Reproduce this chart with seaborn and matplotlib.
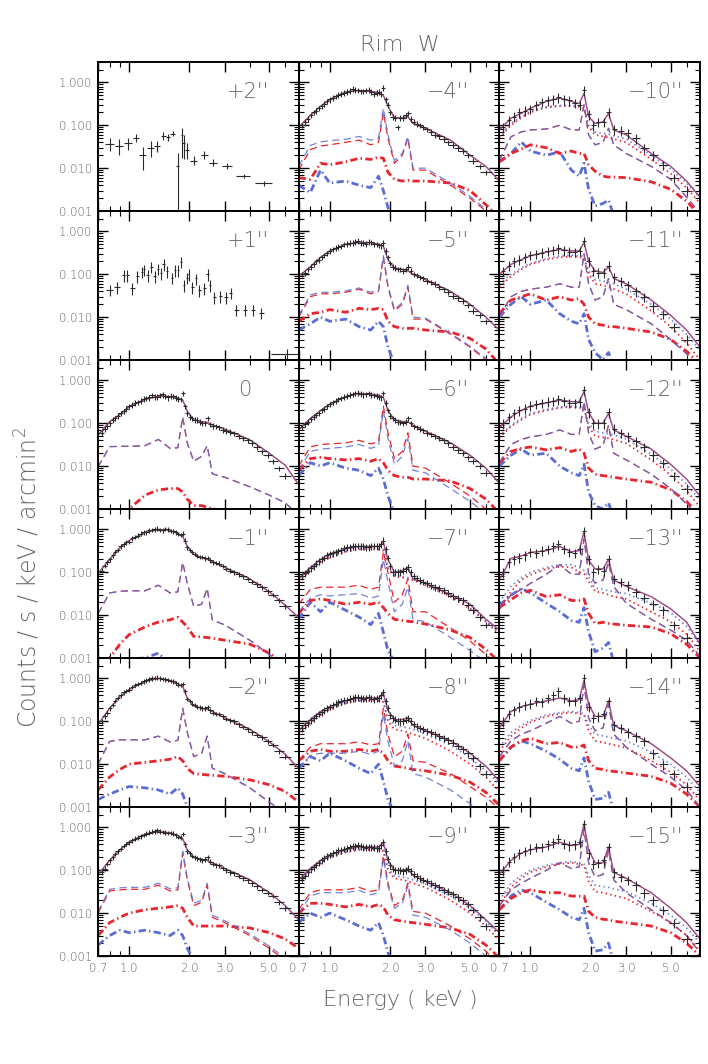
import numpy as np
import matplotlib
matplotlib.use("Agg")
from matplotlib import pyplot as plt
from matplotlib.ticker import FixedLocator, NullFormatter
import seaborn as sns

# ---------------- values ----------------
# model grid (keV)
EM = [0.70, 0.80, 0.90, 1.00, 1.20, 1.40, 1.60, 1.75, 1.85, 1.95,
      2.10, 2.30, 2.45, 2.60, 3.00, 4.00, 5.00, 6.00, 7.00]

# binned data grid for the model panels (centre, half width)
ED = [0.73, 0.78, 0.83, 0.88, 0.94, 1.00, 1.07, 1.14, 1.22, 1.30,
      1.38, 1.47, 1.56, 1.66, 1.76, 1.85, 1.95, 2.06, 2.18, 2.32,
      2.46, 2.62, 2.82, 3.05, 3.35, 3.70, 4.10, 4.60, 5.20, 6.00]
EW = [0.02, 0.02, 0.02, 0.025, 0.025, 0.03, 0.03, 0.035, 0.035, 0.04,
      0.04, 0.045, 0.045, 0.05, 0.05, 0.04, 0.05, 0.055, 0.06, 0.07,
      0.07, 0.08, 0.1, 0.12, 0.15, 0.18, 0.2, 0.25, 0.3, 0.4]
# extra (interleaved) bins used by the brighter slices
ED2 = [0.755, 0.805, 0.855, 0.91, 0.97, 1.035, 1.105, 1.18, 1.26, 1.34,
       1.425, 1.515, 1.61, 1.71, 1.805, 1.90, 2.005, 2.12, 2.25, 2.39,
       2.54, 2.72, 2.93, 3.2, 3.52, 3.9, 4.35, 4.9, 5.6]
EW2 = [0.02, 0.02, 0.02, 0.025, 0.025, 0.03, 0.03, 0.035, 0.035, 0.04,
       0.04, 0.04, 0.045, 0.045, 0.04, 0.04, 0.045, 0.05, 0.06, 0.06,
       0.07, 0.08, 0.1, 0.12, 0.14, 0.17, 0.2, 0.25, 0.3]

# +2" (data only)
e_p2 = [0.80, 0.89, 0.99, 1.08, 1.17, 1.28, 1.38, 1.48, 1.56, 1.65,
        1.75, 1.83, 1.87, 1.95, 2.10, 2.37, 2.62, 3.07, 3.72, 4.68]
w_p2 = [0.04, 0.04, 0.045, 0.04, 0.045, 0.05, 0.05, 0.045, 0.04, 0.045,
        0.03, 0.02, 0.025, 0.04, 0.08, 0.1, 0.12, 0.18, 0.3, 0.45]
v_p2 = [0.037, 0.033, 0.038, 0.05, 0.02, 0.029, 0.033, 0.056, 0.052, 0.063,
        0.011, 0.06, 0.038, 0.026, 0.015, 0.02, 0.013, 0.011, 0.0066, 0.0044]
lo_p2 = [0.025, 0.02, 0.027, 0.04, 0.009, 0.018, 0.024, 0.045, 0.043, 0.055,
         0.0005, 0.017, 0.016, 0.016, 0.012, 0.016, 0.011, 0.0095, 0.0058, 0.0039]
hi_p2 = [0.05, 0.048, 0.05, 0.062, 0.032, 0.042, 0.044, 0.068, 0.064, 0.075,
         0.022, 0.085, 0.06, 0.038, 0.019, 0.025, 0.016, 0.013, 0.0075, 0.005]

# +1" (data only)
e_p1 = [0.80, 0.87, 0.94, 0.98, 1.035, 1.10, 1.16, 1.19, 1.24, 1.29,
        1.34, 1.39, 1.44, 1.49, 1.55, 1.63, 1.70, 1.76, 1.81, 1.88,
        1.94, 1.98, 2.07, 2.15, 2.24, 2.37, 2.46, 2.52, 2.66, 2.85,
        3.04, 3.21, 3.43, 3.78, 4.15, 4.56, 6.1]
w_p1 = [0.03, 0.03, 0.015, 0.015, 0.03, 0.02, 0.015, 0.015, 0.02, 0.02,
        0.02, 0.02, 0.02, 0.025, 0.02, 0.02, 0.02, 0.015, 0.015, 0.015,
        0.015, 0.015, 0.03, 0.03, 0.04, 0.04, 0.03, 0.03, 0.05, 0.06,
        0.06, 0.06, 0.1, 0.1, 0.1, 0.12, 1.0]
v_p1 = [0.044, 0.05, 0.096, 0.096, 0.047, 0.091, 0.115, 0.13, 0.096, 0.152,
        0.091, 0.135, 0.107, 0.174, 0.12, 0.083, 0.125, 0.125, 0.198, 0.056,
        0.083, 0.1, 0.05, 0.08, 0.043, 0.047, 0.1, 0.056, 0.029, 0.031,
        0.029, 0.037, 0.015, 0.015, 0.015, 0.0127, 0.0014]

# 0"
d_0 = [0.06, 0.085, 0.12, 0.15, 0.19, 0.25, 0.3, 0.33, 0.38, 0.45, 0.42, 0.47, 0.4, 0.43, 0.37,
       0.5, 0.17, 0.13, 0.12, 0.1, 0.13, 0.088, 0.08, 0.066, 0.058, 0.045, 0.035, 0.022, 0.013, 0.006]
e_0 = [0.075, 0.1, 0.13, 0.17, 0.22, 0.27, 0.31, 0.37, 0.4, 0.41, 0.45, 0.43, 0.44, 0.39, 0.36,
       0.25, 0.14, 0.12, 0.11, 0.1, 0.095, 0.085, 0.07, 0.063, 0.05, 0.04, 0.028, 0.018, 0.009]
tot_0 = [0.053, 0.11, 0.16, 0.245, 0.36, 0.43, 0.42, 0.39, 0.35, 0.19,
         0.12, 0.11, 0.105, 0.092, 0.073, 0.041, 0.02, 0.0105, 0.0037]
dash_0 = [0.0096, 0.0285, 0.029, 0.029, 0.03, 0.042, 0.026, 0.027, 0.14, 0.035,
          0.013, 0.017, 0.03, 0.0066, 0.0055, 0.0033, 0.0021, 0.0014, 0.0007]
ddr_0 = [0.0003, 0.0005, 0.0007, 0.001, 0.0021, 0.0028, 0.003, 0.003, 0.0025, 0.0017,
         0.0012, 0.0012, 0.0011, 0.001, 0.00095, 0.0006, 0.0004, 0.0003, 0.0002]

# -1"
d_1 = [0.11, 0.17, 0.25, 0.33, 0.45, 0.52, 0.68, 0.8, 0.85, 0.98, 1.05, 0.95, 1.0, 0.9, 0.78,
       0.8, 0.38, 0.3, 0.24, 0.23, 0.22, 0.17, 0.16, 0.12, 0.1, 0.08, 0.06, 0.045, 0.03, 0.016]
e_1 = [0.14, 0.2, 0.3, 0.4, 0.5, 0.62, 0.72, 0.85, 0.95, 1.0, 0.97, 1.02, 0.92, 0.85, 0.75,
       0.55, 0.33, 0.27, 0.23, 0.21, 0.19, 0.165, 0.14, 0.11, 0.09, 0.07, 0.052, 0.036, 0.022]
tot_1 = [0.095, 0.2, 0.37, 0.55, 0.85, 1.0, 0.95, 0.8, 0.7, 0.4,
         0.26, 0.22, 0.2, 0.18, 0.13, 0.07, 0.035, 0.017, 0.0087]
dash_1 = [0.0109, 0.033, 0.036, 0.037, 0.037, 0.05, 0.033, 0.035, 0.17, 0.055,
          0.016, 0.018, 0.042, 0.0077, 0.0059, 0.0026, 0.0012, 0.0007, 0.0004]
ddr_1 = [0.0004, 0.001, 0.0021, 0.0035, 0.0053, 0.0069, 0.0078, 0.0089, 0.0069, 0.0053,
         0.0032, 0.0031, 0.003, 0.0029, 0.0026, 0.0021, 0.0013, 0.0007, 0.0004]
ddb_1 = [0.0003, 0.0005, 0.0008, 0.00095, 0.001, 0.0013, 0.0007, 0.0005, 0.0004, 0.0003,
         0.0002, 0.0002, 0.0002, 0.0002, 0.0002, 0.0002, 0.0002, 0.0002, 0.0002]

# -2"
d_2 = [0.1, 0.16, 0.24, 0.35, 0.47, 0.55, 0.7, 0.78, 0.9, 1.0, 1.05, 0.98, 0.92, 0.85, 0.72,
       0.75, 0.33, 0.26, 0.22, 0.2, 0.21, 0.16, 0.15, 0.115, 0.1, 0.075, 0.055, 0.042, 0.028, 0.015]
e_2 = [0.13, 0.2, 0.3, 0.4, 0.52, 0.63, 0.74, 0.85, 0.95, 1.02, 1.0, 0.95, 0.88, 0.78, 0.7,
       0.5, 0.3, 0.24, 0.21, 0.2, 0.18, 0.15, 0.13, 0.105, 0.085, 0.065, 0.048, 0.034, 0.02]
tot_2 = [0.085, 0.2, 0.38, 0.55, 0.85, 1.0, 0.9, 0.75, 0.65, 0.35,
         0.23, 0.2, 0.19, 0.17, 0.12, 0.065, 0.033, 0.017, 0.008]
dash_2 = [0.01, 0.034, 0.037, 0.037, 0.037, 0.045, 0.033, 0.036, 0.2, 0.055,
          0.015, 0.018, 0.045, 0.008, 0.006, 0.0028, 0.0013, 0.0007, 0.0004]
ddr_2 = [0.0025, 0.005, 0.0075, 0.01, 0.011, 0.012, 0.013, 0.015, 0.012, 0.008,
         0.006, 0.0058, 0.0056, 0.0055, 0.0052, 0.0043, 0.0033, 0.0023, 0.0013]
ddb_2 = [0.0015, 0.002, 0.0025, 0.003, 0.0028, 0.0025, 0.002, 0.0028, 0.002, 0.001,
         0.0006, 0.0004, 0.0004, 0.0003, 0.0003, 0.0002, 0.0002, 0.0002, 0.0002]

# -3"
d_3 = [0.09, 0.14, 0.2, 0.28, 0.37, 0.45, 0.55, 0.62, 0.72, 0.8, 0.85, 0.78, 0.75, 0.72, 0.6,
       0.7, 0.28, 0.22, 0.19, 0.17, 0.2, 0.14, 0.13, 0.1, 0.085, 0.065, 0.05, 0.035, 0.025, 0.013]
e_3 = [0.11, 0.17, 0.24, 0.32, 0.41, 0.5, 0.58, 0.68, 0.76, 0.82, 0.8, 0.76, 0.74, 0.66, 0.58,
       0.4, 0.25, 0.2, 0.18, 0.18, 0.16, 0.13, 0.115, 0.09, 0.075, 0.058, 0.042, 0.03, 0.018]
tot_3 = [0.08, 0.17, 0.3, 0.45, 0.7, 0.8, 0.75, 0.65, 0.55, 0.3,
         0.2, 0.18, 0.17, 0.15, 0.11, 0.06, 0.03, 0.015, 0.007]
dashr_3 = [0.01, 0.033, 0.035, 0.036, 0.036, 0.045, 0.033, 0.035, 0.25, 0.06,
           0.015, 0.018, 0.045, 0.008, 0.006, 0.003, 0.0015, 0.0008, 0.0004]
dashb_3 = [0.011, 0.036, 0.039, 0.04, 0.04, 0.05, 0.037, 0.039, 0.28, 0.066,
           0.017, 0.02, 0.05, 0.009, 0.0066, 0.0033, 0.0017, 0.0009, 0.0005]
ddr_3 = [0.003, 0.006, 0.008, 0.01, 0.012, 0.013, 0.014, 0.015, 0.013, 0.008,
         0.005, 0.005, 0.005, 0.005, 0.005, 0.0045, 0.0035, 0.0025, 0.0015]
ddb_3 = [0.0018, 0.003, 0.004, 0.0035, 0.004, 0.0035, 0.003, 0.004, 0.003, 0.0015,
         0.0008, 0.0005, 0.0004, 0.0003, 0.0003, 0.0002, 0.0002, 0.0002, 0.0002]

# -4"
d_4 = [0.1, 0.14, 0.2, 0.25, 0.32, 0.4, 0.48, 0.55, 0.6, 0.7, 0.65, 0.62, 0.68, 0.55, 0.6,
       0.75, 0.3, 0.16, 0.09, 0.15, 0.19, 0.12, 0.1, 0.08, 0.06, 0.048, 0.035, 0.025, 0.015, 0.008]
e_4 = [0.12, 0.17, 0.22, 0.28, 0.36, 0.44, 0.52, 0.58, 0.64, 0.68, 0.62, 0.66, 0.6, 0.58, 0.55,
       0.4, 0.2, 0.15, 0.15, 0.17, 0.14, 0.11, 0.09, 0.07, 0.055, 0.04, 0.03, 0.02, 0.011]
tot_4 = [0.09, 0.17, 0.28, 0.4, 0.6, 0.65, 0.62, 0.58, 0.5, 0.28,
         0.15, 0.15, 0.16, 0.11, 0.085, 0.045, 0.02, 0.011, 0.005]
dashr_4 = [0.009, 0.027, 0.033, 0.035, 0.04, 0.045, 0.035, 0.04, 0.2, 0.05,
           0.013, 0.02, 0.05, 0.009, 0.009, 0.004, 0.002, 0.001, 0.0005]
dashb_4 = [0.011, 0.034, 0.041, 0.044, 0.047, 0.055, 0.045, 0.05, 0.25, 0.06,
           0.015, 0.022, 0.055, 0.01, 0.01, 0.0045, 0.0022, 0.0011, 0.0006]
ddr_4 = [0.006, 0.0055, 0.013, 0.012, 0.014, 0.017, 0.016, 0.018, 0.017, 0.008,
         0.0055, 0.005, 0.0052, 0.005, 0.005, 0.0045, 0.003, 0.0014, 0.0007]
ddb_4 = [0.004, 0.0027, 0.009, 0.0045, 0.005, 0.004, 0.0035, 0.0065, 0.003, 0.0012,
         0.0006, 0.0004, 0.0003, 0.0003, 0.0002, 0.0002, 0.0002, 0.0002, 0.0002]

# -5"
d_5 = [0.1, 0.13, 0.17, 0.22, 0.28, 0.35, 0.42, 0.45, 0.52, 0.55, 0.6, 0.55, 0.58, 0.5, 0.48,
       0.55, 0.25, 0.15, 0.13, 0.12, 0.15, 0.1, 0.085, 0.07, 0.06, 0.045, 0.032, 0.024, 0.014, 0.008]
e_5 = [0.11, 0.15, 0.2, 0.25, 0.31, 0.38, 0.44, 0.5, 0.54, 0.57, 0.55, 0.52, 0.56, 0.5, 0.47,
       0.35, 0.18, 0.14, 0.13, 0.13, 0.12, 0.095, 0.08, 0.065, 0.05, 0.038, 0.028, 0.019, 0.011]
tot_5 = [0.09, 0.15, 0.25, 0.35, 0.5, 0.55, 0.55, 0.5, 0.45, 0.22,
         0.14, 0.13, 0.12, 0.1, 0.075, 0.04, 0.02, 0.01, 0.005]
dashr_5 = [0.01, 0.03, 0.035, 0.035, 0.038, 0.045, 0.035, 0.04, 0.25, 0.05,
           0.014, 0.02, 0.05, 0.009, 0.009, 0.004, 0.002, 0.001, 0.0005]
dashb_5 = [0.011, 0.033, 0.038, 0.038, 0.041, 0.048, 0.038, 0.043, 0.27, 0.055,
           0.015, 0.022, 0.055, 0.01, 0.0095, 0.0042, 0.0021, 0.0011, 0.0005]
ddr_5 = [0.008, 0.012, 0.013, 0.015, 0.013, 0.016, 0.015, 0.016, 0.015, 0.008,
         0.006, 0.0055, 0.0055, 0.0055, 0.005, 0.0045, 0.0032, 0.0018, 0.0008]
ddb_5 = [0.005, 0.007, 0.01, 0.008, 0.009, 0.006, 0.005, 0.008, 0.006, 0.002,
         0.0008, 0.0006, 0.0005, 0.0003, 0.0002, 0.0002, 0.0002, 0.0002, 0.0002]

# -6"
d_6 = [0.08, 0.11, 0.14, 0.17, 0.22, 0.28, 0.34, 0.38, 0.44, 0.48, 0.52, 0.47, 0.5, 0.45, 0.42,
       0.5, 0.2, 0.13, 0.11, 0.1, 0.13, 0.085, 0.075, 0.06, 0.05, 0.04, 0.028, 0.02, 0.013, 0.007]
e_6 = [0.095, 0.125, 0.155, 0.2, 0.25, 0.31, 0.36, 0.41, 0.46, 0.5, 0.49, 0.48, 0.46, 0.44, 0.4,
       0.3, 0.15, 0.12, 0.105, 0.11, 0.1, 0.08, 0.068, 0.055, 0.045, 0.034, 0.024, 0.016, 0.01]
tot_6 = [0.07, 0.13, 0.2, 0.28, 0.42, 0.5, 0.48, 0.45, 0.4, 0.2,
         0.12, 0.11, 0.11, 0.09, 0.065, 0.035, 0.018, 0.009, 0.004]
dashr_6 = [0.01, 0.028, 0.032, 0.033, 0.035, 0.04, 0.033, 0.037, 0.25, 0.06,
           0.015, 0.022, 0.06, 0.01, 0.009, 0.004, 0.002, 0.001, 0.0005]
dashb_6 = [0.008, 0.022, 0.025, 0.026, 0.028, 0.032, 0.026, 0.03, 0.2, 0.045,
           0.011, 0.017, 0.045, 0.008, 0.007, 0.003, 0.0015, 0.0008, 0.0004]
ddr_6 = [0.008, 0.015, 0.016, 0.015, 0.014, 0.015, 0.013, 0.015, 0.012, 0.008,
         0.006, 0.0055, 0.0055, 0.005, 0.005, 0.0045, 0.003, 0.0017, 0.0008]
ddb_6 = [0.006, 0.012, 0.01, 0.012, 0.009, 0.008, 0.006, 0.009, 0.005, 0.002,
         0.0008, 0.0005, 0.0004, 0.0003, 0.0002, 0.0002, 0.0002, 0.0002, 0.0002]

# -7"
d_7 = [0.08, 0.11, 0.14, 0.18, 0.22, 0.27, 0.3, 0.33, 0.38, 0.4, 0.42, 0.4, 0.38, 0.42, 0.4,
       0.55, 0.22, 0.1, 0.1, 0.11, 0.13, 0.08, 0.065, 0.055, 0.045, 0.038, 0.028, 0.022, 0.013, 0.006]
e_7 = [0.095, 0.125, 0.16, 0.2, 0.25, 0.28, 0.32, 0.36, 0.39, 0.41, 0.4, 0.39, 0.41, 0.4, 0.45,
       0.35, 0.14, 0.1, 0.1, 0.12, 0.1, 0.075, 0.06, 0.05, 0.042, 0.033, 0.025, 0.017, 0.009]
tot_7 = [0.07, 0.13, 0.2, 0.27, 0.35, 0.4, 0.4, 0.4, 0.5, 0.2,
         0.1, 0.11, 0.13, 0.07, 0.055, 0.03, 0.018, 0.008, 0.0045]
dotr_7 = [0.06, 0.11, 0.17, 0.22, 0.3, 0.34, 0.35, 0.34, 0.32, 0.12,
          0.08, 0.075, 0.07, 0.065, 0.05, 0.027, 0.014, 0.007, 0.0035]
dotb_7 = [0.065, 0.12, 0.18, 0.24, 0.31, 0.36, 0.37, 0.36, 0.34, 0.13,
          0.085, 0.08, 0.075, 0.07, 0.053, 0.029, 0.015, 0.0075, 0.0038]
dashr_7 = [0.018, 0.04, 0.045, 0.045, 0.045, 0.05, 0.04, 0.045, 0.3, 0.1,
           0.02, 0.03, 0.07, 0.012, 0.012, 0.005, 0.0025, 0.0012, 0.0006]
dashb_7 = [0.012, 0.025, 0.03, 0.028, 0.03, 0.032, 0.025, 0.028, 0.2, 0.06,
           0.012, 0.018, 0.045, 0.008, 0.007, 0.003, 0.0015, 0.0008, 0.0004]
ddr_7 = [0.011, 0.022, 0.024, 0.022, 0.018, 0.02, 0.018, 0.02, 0.015, 0.011,
         0.008, 0.0075, 0.0072, 0.007, 0.0062, 0.0045, 0.003, 0.0016, 0.0008]
ddb_7 = [0.008, 0.02, 0.012, 0.02, 0.013, 0.009, 0.006, 0.011, 0.004, 0.0015,
         0.0008, 0.0005, 0.0004, 0.0003, 0.0002, 0.0002, 0.0002, 0.0002, 0.0002]

# -8"
d_8 = [0.07, 0.09, 0.12, 0.15, 0.18, 0.22, 0.26, 0.29, 0.32, 0.35, 0.37, 0.34, 0.36, 0.33, 0.35,
       0.48, 0.2, 0.12, 0.1, 0.1, 0.12, 0.085, 0.07, 0.06, 0.05, 0.04, 0.032, 0.022, 0.014, 0.006]
e_8 = [0.08, 0.105, 0.135, 0.165, 0.2, 0.24, 0.28, 0.31, 0.34, 0.36, 0.35, 0.35, 0.34, 0.35, 0.4,
       0.3, 0.14, 0.11, 0.1, 0.11, 0.1, 0.078, 0.065, 0.055, 0.045, 0.036, 0.027, 0.018, 0.009]
tot_8 = [0.06, 0.11, 0.17, 0.22, 0.3, 0.35, 0.35, 0.35, 0.45, 0.18,
         0.11, 0.11, 0.12, 0.08, 0.06, 0.035, 0.018, 0.009, 0.004]
dotr_8 = [0.05, 0.09, 0.14, 0.19, 0.26, 0.3, 0.3, 0.3, 0.28, 0.1,
          0.065, 0.06, 0.055, 0.05, 0.04, 0.02, 0.01, 0.005, 0.0023]
dotb_8 = [0.055, 0.1, 0.15, 0.2, 0.27, 0.31, 0.31, 0.31, 0.29, 0.12,
          0.08, 0.075, 0.07, 0.065, 0.05, 0.028, 0.014, 0.007, 0.0035]
dashr_8 = [0.012, 0.025, 0.03, 0.03, 0.03, 0.033, 0.028, 0.03, 0.2, 0.05,
           0.015, 0.02, 0.05, 0.012, 0.011, 0.006, 0.003, 0.0017, 0.0009]
dashb_8 = [0.008, 0.016, 0.018, 0.018, 0.018, 0.02, 0.017, 0.02, 0.15, 0.035,
           0.009, 0.012, 0.035, 0.006, 0.005, 0.0025, 0.0012, 0.0006, 0.0003]
ddr_8 = [0.012, 0.02, 0.022, 0.02, 0.02, 0.022, 0.02, 0.022, 0.018, 0.012,
         0.009, 0.0085, 0.008, 0.0075, 0.007, 0.0055, 0.0038, 0.0022, 0.0011]
ddb_8 = [0.008, 0.015, 0.012, 0.018, 0.012, 0.008, 0.006, 0.01, 0.004, 0.0015,
         0.0007, 0.0004, 0.0003, 0.0003, 0.0002, 0.0002, 0.0002, 0.0002, 0.0002]

# -9"
d_9 = [0.065, 0.09, 0.12, 0.15, 0.19, 0.23, 0.27, 0.3, 0.33, 0.36, 0.38, 0.35, 0.35, 0.34, 0.33,
       0.45, 0.18, 0.11, 0.1, 0.095, 0.11, 0.08, 0.065, 0.055, 0.045, 0.035, 0.028, 0.02, 0.012, 0.005]
e_9 = [0.075, 0.105, 0.135, 0.17, 0.21, 0.25, 0.29, 0.32, 0.35, 0.37, 0.36, 0.34, 0.35, 0.33, 0.38,
       0.28, 0.13, 0.1, 0.1, 0.1, 0.095, 0.072, 0.06, 0.05, 0.04, 0.032, 0.024, 0.016, 0.008]
tot_9 = [0.06, 0.11, 0.17, 0.23, 0.3, 0.35, 0.35, 0.35, 0.45, 0.17,
         0.1, 0.1, 0.11, 0.075, 0.055, 0.03, 0.015, 0.007, 0.0035]
dotr_9 = [0.05, 0.095, 0.145, 0.2, 0.26, 0.3, 0.3, 0.3, 0.28, 0.1,
          0.065, 0.06, 0.055, 0.05, 0.04, 0.02, 0.01, 0.005, 0.0023]
dotb_9 = [0.055, 0.1, 0.155, 0.21, 0.27, 0.31, 0.31, 0.31, 0.29, 0.11,
          0.075, 0.07, 0.065, 0.06, 0.048, 0.025, 0.013, 0.0065, 0.003]
dashr_9 = [0.012, 0.03, 0.035, 0.035, 0.035, 0.04, 0.032, 0.035, 0.22, 0.05,
           0.015, 0.02, 0.05, 0.011, 0.01, 0.005, 0.0025, 0.0013, 0.0006]
dashb_9 = [0.01, 0.025, 0.03, 0.03, 0.03, 0.034, 0.027, 0.03, 0.19, 0.043,
           0.013, 0.017, 0.043, 0.009, 0.008, 0.004, 0.002, 0.001, 0.0005]
ddr_9 = [0.01, 0.017, 0.017, 0.016, 0.014, 0.016, 0.014, 0.016, 0.014, 0.009,
         0.007, 0.0065, 0.0062, 0.006, 0.0055, 0.0045, 0.0032, 0.0018, 0.0009]
ddb_9 = [0.006, 0.01, 0.008, 0.01, 0.007, 0.005, 0.004, 0.006, 0.003, 0.0012,
         0.0006, 0.0004, 0.0004, 0.0003, 0.0003, 0.0002, 0.0002, 0.0002, 0.0002]

# -10"
d_10 = [0.09, 0.13, 0.16, 0.2, 0.22, 0.24, 0.3, 0.35, 0.38, 0.4, 0.45, 0.4, 0.38, 0.33, 0.3,
        0.65, 0.18, 0.1, 0.12, 0.12, 0.2, 0.08, 0.075, 0.065, 0.05, 0.03, 0.02, 0.012, 0.006, 0.003]
tot_10 = [0.078, 0.146, 0.19, 0.25, 0.36, 0.43, 0.36, 0.32, 0.56, 0.16,
          0.11, 0.12, 0.19, 0.078, 0.06, 0.022, 0.011, 0.005, 0.0021]
dotr_10 = [0.05, 0.1, 0.15, 0.2, 0.26, 0.28, 0.28, 0.27, 0.25, 0.09,
           0.06, 0.055, 0.052, 0.048, 0.04, 0.016, 0.0075, 0.0035, 0.0015]
dotb_10 = [0.055, 0.11, 0.16, 0.21, 0.27, 0.29, 0.29, 0.28, 0.26, 0.1,
           0.07, 0.065, 0.062, 0.057, 0.048, 0.02, 0.0095, 0.0045, 0.002]
dash_10 = [0.015, 0.054, 0.07, 0.078, 0.082, 0.1, 0.078, 0.078, 0.3, 0.06,
           0.035, 0.04, 0.085, 0.035, 0.022, 0.011, 0.0055, 0.0021, 0.0009]
ddr_10 = [0.014, 0.022, 0.028, 0.035, 0.03, 0.022, 0.025, 0.022, 0.022, 0.012,
          0.0085, 0.0065, 0.0062, 0.0062, 0.006, 0.0048, 0.0032, 0.0017, 0.0008]
ddb_10 = [0.014, 0.022, 0.041, 0.025, 0.02, 0.024, 0.009, 0.0065, 0.013, 0.0032,
          0.0013, 0.0015, 0.0018, 0.0008, 0.0004, 0.0003, 0.0002, 0.0002, 0.0002]

# -11"
d_11 = [0.12, 0.16, 0.2, 0.22, 0.25, 0.28, 0.3, 0.32, 0.35, 0.37, 0.4, 0.36, 0.34, 0.33, 0.35,
        0.6, 0.2, 0.12, 0.11, 0.11, 0.16, 0.085, 0.07, 0.055, 0.04, 0.03, 0.018, 0.012, 0.006, 0.003]
tot_11 = [0.1, 0.17, 0.22, 0.27, 0.33, 0.38, 0.35, 0.35, 0.55, 0.2,
          0.12, 0.11, 0.15, 0.08, 0.06, 0.025, 0.011, 0.005, 0.002]
dotr_11 = [0.05, 0.09, 0.13, 0.17, 0.22, 0.25, 0.26, 0.25, 0.24, 0.1,
           0.06, 0.055, 0.05, 0.045, 0.035, 0.014, 0.006, 0.0025, 0.001]
dotb_11 = [0.06, 0.1, 0.14, 0.18, 0.23, 0.27, 0.28, 0.27, 0.26, 0.12,
           0.075, 0.07, 0.065, 0.06, 0.045, 0.02, 0.009, 0.004, 0.0017]
dash_11 = [0.01, 0.03, 0.04, 0.045, 0.05, 0.06, 0.05, 0.05, 0.3, 0.06,
           0.025, 0.03, 0.08, 0.02, 0.015, 0.007, 0.003, 0.0014, 0.0006]
ddr_11 = [0.012, 0.025, 0.03, 0.035, 0.025, 0.03, 0.025, 0.027, 0.02, 0.01,
          0.007, 0.0065, 0.006, 0.006, 0.0055, 0.0045, 0.003, 0.0016, 0.0008]
ddb_11 = [0.01, 0.02, 0.03, 0.02, 0.025, 0.012, 0.008, 0.007, 0.012, 0.003,
          0.0015, 0.001, 0.0015, 0.0007, 0.0003, 0.0002, 0.0002, 0.0002, 0.0002]

# -12"
d_12 = [0.1, 0.14, 0.17, 0.2, 0.22, 0.26, 0.28, 0.3, 0.32, 0.33, 0.36, 0.33, 0.3, 0.3, 0.32,
        0.6, 0.18, 0.1, 0.1, 0.1, 0.18, 0.075, 0.06, 0.05, 0.038, 0.028, 0.018, 0.012, 0.006, 0.003]
tot_12 = [0.08, 0.14, 0.2, 0.25, 0.3, 0.35, 0.32, 0.32, 0.55, 0.18,
          0.1, 0.1, 0.17, 0.07, 0.05, 0.025, 0.011, 0.005, 0.002]
dotr_12 = [0.045, 0.085, 0.12, 0.16, 0.2, 0.23, 0.24, 0.23, 0.22, 0.085,
           0.05, 0.047, 0.045, 0.042, 0.034, 0.014, 0.0062, 0.0027, 0.0011]
dotb_12 = [0.05, 0.09, 0.13, 0.17, 0.21, 0.24, 0.25, 0.24, 0.23, 0.1,
           0.065, 0.06, 0.057, 0.053, 0.043, 0.019, 0.0085, 0.0038, 0.0016]
dash_12 = [0.012, 0.032, 0.042, 0.048, 0.055, 0.07, 0.055, 0.055, 0.32, 0.06,
           0.025, 0.03, 0.09, 0.02, 0.014, 0.0065, 0.003, 0.0013, 0.0006]
ddr_12 = [0.012, 0.022, 0.026, 0.028, 0.024, 0.027, 0.022, 0.025, 0.02, 0.009,
          0.0065, 0.006, 0.0058, 0.0055, 0.005, 0.0042, 0.0028, 0.0015, 0.0007]
ddb_12 = [0.01, 0.018, 0.025, 0.018, 0.02, 0.01, 0.007, 0.006, 0.011, 0.0025,
          0.0012, 0.001, 0.0014, 0.0006, 0.0003, 0.0002, 0.0002, 0.0002, 0.0002]

# -13"
d_13 = [0.1, 0.17, 0.2, 0.22, 0.25, 0.3, 0.28, 0.32, 0.35, 0.4, 0.45, 0.35, 0.3, 0.28, 0.35,
        0.9, 0.2, 0.1, 0.12, 0.11, 0.2, 0.07, 0.06, 0.05, 0.035, 0.025, 0.018, 0.013, 0.006, 0.003]
tot_13 = [0.066, 0.21, 0.24, 0.29, 0.32, 0.4, 0.3, 0.32, 0.89, 0.19,
          0.12, 0.12, 0.2, 0.066, 0.047, 0.027, 0.014, 0.0069, 0.0021]
dotr_13 = [0.014, 0.035, 0.066, 0.087, 0.12, 0.135, 0.13, 0.1, 0.092, 0.062,
           0.036, 0.033, 0.03, 0.027, 0.024, 0.012, 0.007, 0.0036, 0.0014]
dotb_13 = [0.02, 0.047, 0.075, 0.1, 0.13, 0.15, 0.15, 0.13, 0.11, 0.08,
           0.043, 0.04, 0.037, 0.035, 0.032, 0.019, 0.0115, 0.0055, 0.002]
dash_13 = [0.015, 0.029, 0.04, 0.055, 0.09, 0.15, 0.09, 0.09, 0.6, 0.092,
           0.056, 0.066, 0.17, 0.047, 0.019, 0.008, 0.0045, 0.0026, 0.0011]
ddr_13 = [0.015, 0.023, 0.033, 0.038, 0.027, 0.03, 0.022, 0.022, 0.024, 0.011,
          0.0064, 0.0068, 0.0064, 0.0062, 0.0058, 0.0053, 0.0037, 0.0021, 0.001]
ddb_13 = [0.017, 0.029, 0.042, 0.033, 0.019, 0.012, 0.0075, 0.0068, 0.015, 0.0041,
          0.0014, 0.0017, 0.0023, 0.0008, 0.0004, 0.0003, 0.0002, 0.0002, 0.0002]

# -14"
d_14 = [0.1, 0.15, 0.18, 0.22, 0.24, 0.26, 0.3, 0.28, 0.35, 0.4, 0.5, 0.35, 0.3, 0.3, 0.35,
        1.0, 0.22, 0.12, 0.13, 0.15, 0.3, 0.08, 0.07, 0.055, 0.045, 0.035, 0.018, 0.01, 0.006, 0.003]
tot_14 = [0.07, 0.17, 0.22, 0.25, 0.3, 0.35, 0.3, 0.32, 0.9, 0.25,
          0.13, 0.13, 0.3, 0.08, 0.06, 0.03, 0.014, 0.007, 0.003]
dotr_14 = [0.02, 0.045, 0.07, 0.095, 0.13, 0.15, 0.16, 0.15, 0.14, 0.06,
           0.035, 0.032, 0.03, 0.028, 0.024, 0.012, 0.0065, 0.0033, 0.0014]
dotb_14 = [0.025, 0.055, 0.08, 0.105, 0.14, 0.16, 0.17, 0.16, 0.15, 0.08,
           0.05, 0.046, 0.043, 0.04, 0.035, 0.019, 0.01, 0.005, 0.0022]
dash_14 = [0.015, 0.035, 0.05, 0.06, 0.09, 0.13, 0.09, 0.1, 0.7, 0.12,
           0.06, 0.07, 0.25, 0.05, 0.025, 0.01, 0.005, 0.0025, 0.001]
ddr_14 = [0.012, 0.025, 0.035, 0.04, 0.03, 0.032, 0.025, 0.025, 0.028, 0.012,
          0.008, 0.0075, 0.007, 0.0068, 0.0062, 0.0052, 0.0036, 0.002, 0.001]
ddb_14 = [0.012, 0.025, 0.035, 0.03, 0.02, 0.013, 0.008, 0.007, 0.014, 0.004,
          0.0015, 0.0016, 0.0022, 0.0008, 0.0004, 0.0003, 0.0002, 0.0002, 0.0002]

# -15"
d_15 = [0.1, 0.16, 0.2, 0.25, 0.28, 0.32, 0.35, 0.35, 0.4, 0.45, 0.55, 0.42, 0.38, 0.4, 0.45,
        1.2, 0.25, 0.14, 0.15, 0.17, 0.35, 0.09, 0.07, 0.06, 0.045, 0.03, 0.02, 0.012, 0.006, 0.0025]
tot_15 = [0.08, 0.17, 0.25, 0.3, 0.35, 0.45, 0.38, 0.4, 1.2, 0.3,
          0.15, 0.15, 0.35, 0.09, 0.065, 0.03, 0.013, 0.006, 0.0025]
dotr_15 = [0.015, 0.04, 0.065, 0.09, 0.12, 0.14, 0.15, 0.14, 0.13, 0.055,
           0.032, 0.03, 0.028, 0.026, 0.022, 0.011, 0.006, 0.003, 0.0013]
dotb_15 = [0.02, 0.05, 0.075, 0.1, 0.13, 0.15, 0.16, 0.15, 0.14, 0.075,
           0.045, 0.042, 0.04, 0.037, 0.032, 0.017, 0.009, 0.0045, 0.002]
dash_15 = [0.015, 0.035, 0.05, 0.065, 0.1, 0.15, 0.11, 0.12, 0.9, 0.15,
           0.07, 0.08, 0.3, 0.06, 0.03, 0.012, 0.006, 0.003, 0.0012]
ddr_15 = [0.012, 0.022, 0.03, 0.035, 0.03, 0.03, 0.025, 0.025, 0.025, 0.011,
          0.008, 0.0072, 0.007, 0.0065, 0.006, 0.005, 0.0035, 0.002, 0.001]
ddb_15 = [0.012, 0.025, 0.035, 0.03, 0.018, 0.012, 0.008, 0.007, 0.013, 0.0035,
          0.0013, 0.0014, 0.002, 0.0007, 0.0004, 0.0003, 0.0002, 0.0002, 0.0002]

# panel table: (row, col, label, data, extra data, rel. error,
#               total, dotted r/b, dashed r/b, dash-dot r/b)
PANELS = [
    (2, 0, "0", d_0, e_0, 0.15, tot_0, None, None, dash_0, dash_0, ddr_0, None),
    (3, 0, "\u22121''", d_1, e_1, 0.12, tot_1, None, None, dash_1, dash_1, ddr_1, ddb_1),
    (4, 0, "\u22122''", d_2, e_2, 0.12, tot_2, None, None, dash_2, dash_2, ddr_2, ddb_2),
    (5, 0, "\u22123''", d_3, e_3, 0.12, tot_3, None, None, dashr_3, dashb_3, ddr_3, ddb_3),
    (0, 1, "\u22124''", d_4, e_4, 0.15, tot_4, None, None, dashr_4, dashb_4, ddr_4, ddb_4),
    (1, 1, "\u22125''", d_5, e_5, 0.15, tot_5, None, None, dashr_5, dashb_5, ddr_5, ddb_5),
    (2, 1, "\u22126''", d_6, e_6, 0.15, tot_6, None, None, dashr_6, dashb_6, ddr_6, ddb_6),
    (3, 1, "\u22127''", d_7, e_7, 0.18, tot_7, dotr_7, dotb_7, dashr_7, dashb_7, ddr_7, ddb_7),
    (4, 1, "\u22128''", d_8, e_8, 0.18, tot_8, dotr_8, dotb_8, dashr_8, dashb_8, ddr_8, ddb_8),
    (5, 1, "\u22129''", d_9, e_9, 0.18, tot_9, dotr_9, dotb_9, dashr_9, dashb_9, ddr_9, ddb_9),
    (0, 2, "\u221210''", d_10, None, 0.25, tot_10, dotr_10, dotb_10, dash_10, dash_10, ddr_10, ddb_10),
    (1, 2, "\u221211''", d_11, None, 0.25, tot_11, dotr_11, dotb_11, dash_11, dash_11, ddr_11, ddb_11),
    (2, 2, "\u221212''", d_12, None, 0.25, tot_12, dotr_12, dotb_12, dash_12, dash_12, ddr_12, ddb_12),
    (3, 2, "\u221213''", d_13, None, 0.25, tot_13, dotr_13, dotb_13, dash_13, dash_13, ddr_13, ddb_13),
    (4, 2, "\u221214''", d_14, None, 0.25, tot_14, dotr_14, dotb_14, dash_14, dash_14, ddr_14, ddb_14),
    (5, 2, "\u221215''", d_15, None, 0.25, tot_15, dotr_15, dotb_15, dash_15, dash_15, ddr_15, ddb_15),
]

RED = "#e8242c"
BLUE = "#5b6cd6"
GREY = "#666666"
FONT = ["DejaVu Sans"]

DOTTED = (0, (0.8, 1.8))
DASHED = (0, (5.8, 3.5))
DASHDOT = (0, (2.6, 1.2, 0.5, 1.2))


def model_line(ax, y, color, ls, lw, alpha=1.0):
    if y is None:
        return
    sns.lineplot(x=EM, y=y, ax=ax, color=color, linestyle=ls, lw=lw,
                 alpha=alpha, estimator=None, sort=False)


def crosses(ax, x, y, xw, ylo, yhi):
    ax.errorbar(x, y, xerr=xw, yerr=[ylo, yhi], fmt="none",
                ecolor="#2a2a2a", elinewidth=0.8, capsize=0, zorder=5)


def style_axes(ax, row, col):
    ax.set_xscale("log")
    ax.set_yscale("log")
    ax.set_xlim(0.7, 7.0)
    ax.set_ylim(0.001, 3.0)
    ax.xaxis.set_major_locator(FixedLocator([0.7, 1.0, 2.0, 3.0, 5.0]))
    ax.xaxis.set_minor_locator(FixedLocator([0.8, 0.9, 4.0, 6.0]))
    ax.yaxis.set_major_locator(FixedLocator([0.001, 0.01, 0.1, 1.0]))
    ax.yaxis.set_minor_locator(FixedLocator(
        [k * 10.0 ** p for p in range(-3, 1) for k in range(2, 10)]))
    ax.xaxis.set_minor_formatter(NullFormatter())
    ax.yaxis.set_minor_formatter(NullFormatter())
    ax.tick_params(which="both", direction="in", top=True, right=True,
                   color="black")
    ax.tick_params(which="major", length=7, width=1.0, labelsize=8.5,
                   labelcolor=GREY, pad=4)
    ax.tick_params(which="minor", length=3.5, width=0.8)
    if col == 0:
        ax.set_yticklabels(["0.001", "0.010", "0.100", "1.000"])
    else:
        ax.set_yticklabels([])
    if row == 5:
        ax.set_xticklabels(["0.7", "1.0", "2.0", "3.0", "5.0"])
    else:
        ax.set_xticklabels([])
    for s in ax.spines.values():
        s.set_linewidth(1.4)
        s.set_color("black")
    ax.set_xlabel("")
    ax.set_ylabel("")


sns.set_theme(style="ticks")
plt.rcParams["font.family"] = FONT
plt.rcParams["font.weight"] = "light"

fig, axes = plt.subplots(6, 3, figsize=(7.08, 10.64), dpi=100)
fig.subplots_adjust(left=98 / 708, right=700 / 708, top=1 - 62 / 1064,
                    bottom=1 - 956 / 1064, hspace=0, wspace=0)

# data-only panels
ax = axes[0, 0]
crosses(ax, e_p2, v_p2, w_p2,
        np.array(v_p2) - np.array(lo_p2), np.array(hi_p2) - np.array(v_p2))
ax = axes[1, 0]
v = np.array(v_p1)
crosses(ax, e_p1, v, w_p1, 0.3 * v, 0.3 * v)

for (row, col, label, d, e, err, tot, dotr, dotb,
     dashr, dashb, ddr, ddb) in PANELS:
    ax = axes[row, col]
    model_line(ax, ddb, BLUE, DASHDOT, 2.0)
    model_line(ax, ddr, RED, DASHDOT, 2.0)
    model_line(ax, dashr, RED, DASHED, 0.9)
    model_line(ax, dashb, BLUE, DASHED, 0.9, 0.85)
    model_line(ax, dotr, RED, DOTTED, 1.3)
    model_line(ax, dotb, BLUE, DOTTED, 1.3, 0.85)
    model_line(ax, tot, RED, "-", 0.9)
    model_line(ax, tot, BLUE, "-", 0.9, 0.6)
    dv = np.array(d)
    crosses(ax, ED, dv, EW, err * dv, err * dv)
    if e is not None:
        ev = np.array(e)
        crosses(ax, ED2, ev, EW2, err * ev, err * ev)

labels = {(0, 0): "+2''", (1, 0): "+1''"}
labels.update({(p[0], p[1]): p[2] for p in PANELS})
for r in range(6):
    for c in range(3):
        ax = axes[r, c]
        style_axes(ax, r, c)
        lab = labels[(r, c)]
        ax.text(0.70 if lab == "0" else 0.64, 0.80, lab, transform=ax.transAxes,
                ha="left", va="center", fontsize=15, color=GREY,
                family=FONT, fontweight="light")

fig.text(400 / 708, 1 - 45 / 1064, "Rim  W", ha="center", va="center",
         fontsize=16, color=GREY, family=FONT, fontweight="light")
fig.text(400 / 708, 1 - 1000 / 1064, "Energy ( keV )", ha="center",
         va="center", fontsize=16, color=GREY, family=FONT, fontweight="light")
fig.text(28 / 708, 1 - 578 / 1064, "Counts / s / keV / arcmin$^2$", ha="center",
         va="center", rotation=90, fontsize=17, color=GREY, family=FONT,
         fontweight="light")

fig.savefig("out.png", dpi=100)
